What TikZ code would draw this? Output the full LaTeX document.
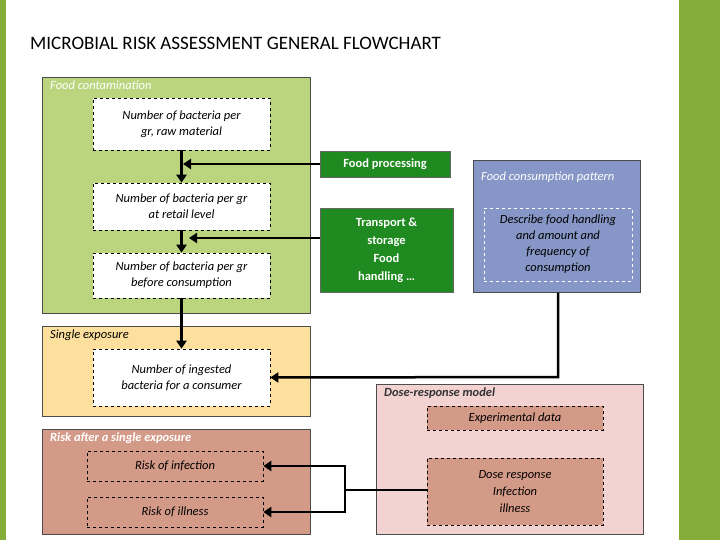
\documentclass[tikz,border=0pt]{standalone}
\usepackage{fontspec}
\setmainfont{Carlito}
\usetikzlibrary{arrows.meta}
\definecolor{lg}{HTML}{BBD57F}
\definecolor{dg}{HTML}{1F8A1F}
\definecolor{bar}{HTML}{84AC38}
\definecolor{bl}{HTML}{8696C6}
\definecolor{ye}{HTML}{FDE09D}
\definecolor{rs}{HTML}{D49A88}
\definecolor{pk}{HTML}{F3D2D2}
\newcommand{\fs}{\fontsize{12.5}{16}\selectfont}
\begin{document}
\begin{tikzpicture}[x=1pt,y=-1pt,
  grp/.style={draw=black!70,line width=0.6pt,anchor=north west,inner sep=0pt},
  dsh/.style={draw=black,dashed,line width=0.6pt,fill=white,align=center,font=\itshape\fs,inner sep=0pt},
  gbox/.style={draw=black!60,fill=dg,text=white,align=center,font=\bfseries\fs,inner sep=0pt},
  hd/.style={anchor=north west,font=\itshape\fs,inner sep=0pt},
  arr/.style={line width=2.5pt,-{Triangle[width=10pt,length=8pt]}},
  ln/.style={line width=2.5pt}]
\useasboundingbox (0,0) rectangle (720,540);
\fill[white] (0,0) rectangle (720,540);
\fill[bar] (0,0) rectangle (6,540);
\fill[bar] (679,0) rectangle (720,540);
\node[anchor=west,font=\fontsize{19}{22}\selectfont,inner sep=0pt] (title) at (30,43) {MICROBIAL RISK ASSESSMENT GENERAL FLOWCHART};
% groups
\node[grp,fill=lg,minimum width=268,minimum height=236] (fc) at (42,77) {};
\node[hd,text=white] (fch) at (50,81) {Food contamination};
\node[grp,fill=ye,minimum width=268,minimum height=90] (se) at (42,326) {};
\node[hd] (seh) at (50,330) {Single exposure};
\node[grp,fill=rs,minimum width=268,minimum height=105] (rk) at (42,429) {};
\node[hd,text=white,font=\bfseries\itshape\fs] (rkh) at (50,433) {Risk after a single exposure};
\node[grp,fill=pk,minimum width=267,minimum height=150] (dr) at (376,384) {};
\node[hd,font=\bfseries\itshape\fs,text=black!80] (drh) at (384,388) {Dose-response model};
\node[grp,fill=bl,minimum width=167,minimum height=132] (cp) at (473,160) {};
\node[hd,text=white] (cph) at (481,172) {Food consumption pattern};
% inner
\node[dsh,minimum width=177,minimum height=52] (raw) at (181.5,124) {Number of bacteria per\\gr, raw material};
\node[dsh,minimum width=177,minimum height=47] (ret) at (181.5,206.5) {Number of bacteria per gr\\at retail level};
\node[dsh,minimum width=177,minimum height=45] (bef) at (181.5,275.5) {Number of bacteria per gr\\before consumption};
\node[dsh,minimum width=177,minimum height=57] (ing) at (181.5,377.5) {Number of ingested\\bacteria for a consumer};
\node[dsh,fill=rs,minimum width=176,minimum height=30] (inf) at (175,466) {Risk of infection};
\node[dsh,fill=rs,minimum width=176,minimum height=30] (ill) at (175,512) {Risk of illness};
\node[dsh,fill=rs,minimum width=176,minimum height=24] (exp) at (515,418) {Experimental data};
\node[dsh,fill=rs,minimum width=176,minimum height=67] (dre) at (515,491.5) {Dose response\\[1pt]Infection\\[1pt]illness};
\node[dsh,draw=white,fill=bl,minimum width=148,minimum height=73] (cpd) at (558,244.5) {Describe food handling\\and amount and\\frequency of\\consumption};
\node[gbox,minimum width=130,minimum height=26] (fp) at (385,164) {Food processing};
\node[gbox,minimum width=133,minimum height=84] (tr) at (386.5,250) {Transport \&\\[2pt]storage\\[2pt]Food\\[2pt]handling …};
% arrows
\draw[arr] (raw.south) -- (ret.north);
\draw[arr] (ret.south) -- (bef.north);
\draw[arr] (bef.south) -- (ing.north);
\draw[arr] (fp.west) -- (183,164);
\draw[arr] (tr.west |- 0,238) -- (189,238);
\draw[arr] (cpd.south |- cp.south) -- (558,377) -- (ing.east);
\coordinate (j) at (345,490);
\draw[ln] (dre.west |- j) -- (j);
\draw[arr] (j) -- (345,466) -- (inf.east);
\draw[arr] (j) -- (345,512) -- (ill.east);
\end{tikzpicture}
\end{document}
